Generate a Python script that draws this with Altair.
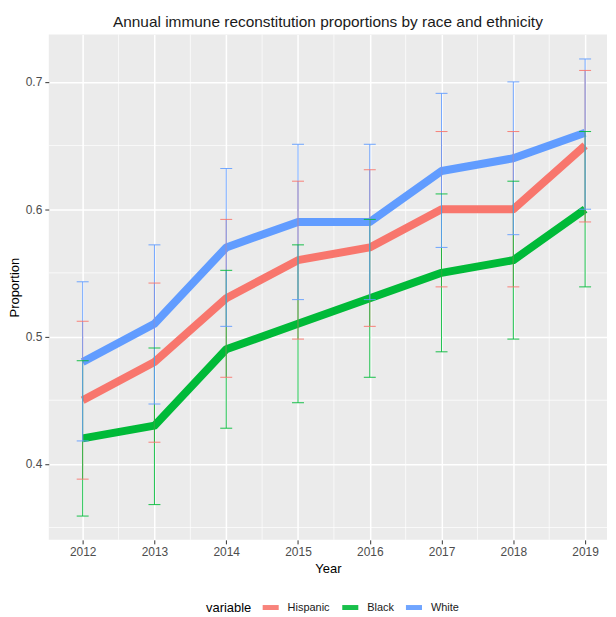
import altair as alt
import pandas as pd

years = [2012, 2013, 2014, 2015, 2016, 2017, 2018, 2019]
groups = ["Hispanic", "Black", "White"]
colors = ["#F8766D", "#00BA38", "#619CFF"]

hispanic = [0.45, 0.48, 0.53, 0.56, 0.57, 0.60, 0.60, 0.65]
hispanic_lo = [0.388, 0.417, 0.468, 0.498, 0.508, 0.539, 0.539, 0.590]
hispanic_hi = [0.512, 0.542, 0.592, 0.622, 0.631, 0.661, 0.661, 0.709]

black = [0.42, 0.43, 0.49, 0.51, 0.53, 0.55, 0.56, 0.60]
black_lo = [0.359, 0.368, 0.428, 0.448, 0.468, 0.488, 0.498, 0.539]
black_hi = [0.481, 0.491, 0.552, 0.572, 0.592, 0.612, 0.622, 0.661]

white = [0.48, 0.51, 0.57, 0.59, 0.59, 0.63, 0.64, 0.66]
white_lo = [0.418, 0.447, 0.508, 0.529, 0.529, 0.570, 0.580, 0.600]
white_hi = [0.543, 0.572, 0.632, 0.651, 0.651, 0.691, 0.700, 0.718]

minor_x = [2012.5, 2013.5, 2014.5, 2015.5, 2016.5, 2017.5, 2018.5]
minor_y = [0.35, 0.45, 0.55, 0.65]
major_y = [0.4, 0.5, 0.6, 0.7]

rows = []
for g, v, lo, hi in [("Hispanic", hispanic, hispanic_lo, hispanic_hi),
                     ("Black", black, black_lo, black_hi),
                     ("White", white, white_lo, white_hi)]:
    for i, yr in enumerate(years):
        rows.append({"Year": yr, "variable": g, "value": v[i], "lo": lo[i], "hi": hi[i]})
df = pd.DataFrame(rows)

xscale = alt.Scale(domain=[2011.528, 2019.305], nice=False, zero=False)
yscale = alt.Scale(domain=[0.3403, 0.7373], nice=False, zero=False)
color = alt.Color(
    "variable:N",
    scale=alt.Scale(domain=groups, range=colors),
    sort=groups,
    legend=alt.Legend(
        title="variable", orient="none", direction="horizontal",
        legendX=158, legendY=565, titleOrient="left",
        symbolType="stroke", symbolStrokeWidth=5, symbolSize=260,
        titleFontSize=13, titleFontWeight="normal", titleColor="#000000",
        labelFontSize=11, labelColor="#1A1A1A", columnPadding=1,
        titlePadding=8, labelOffset=6,
    ),
)

xaxis = alt.Axis(values=years, format="d", grid=True, gridColor="white", gridWidth=1.5,
                 domain=False, tickColor="#333333", tickSize=4, labelColor="#4D4D4D",
                 labelFontSize=12, labelPadding=3, title="Year", titleFontSize=13,
                 titleFontWeight="normal", titleColor="#000000", titlePadding=5)
yaxis = alt.Axis(values=major_y, format=".1f", grid=True, gridColor="white", gridWidth=1.5,
                 domain=False, tickColor="#333333", tickSize=4, labelColor="#4D4D4D",
                 labelFontSize=12, labelPadding=3, title="Proportion", titleFontSize=13,
                 titleFontWeight="normal", titleColor="#000000", titlePadding=4)

base = alt.Chart(df)

minor_vx = alt.Chart(pd.DataFrame({"mx": minor_x})).mark_rule(color="white", strokeWidth=0.7).encode(
    x=alt.X("mx:Q", scale=xscale, axis=xaxis))
minor_hy = alt.Chart(pd.DataFrame({"my": minor_y})).mark_rule(color="white", strokeWidth=0.7).encode(
    y=alt.Y("my:Q", scale=yscale, axis=yaxis))

lines = base.mark_line(strokeWidth=8, strokeCap="butt", strokeJoin="round").encode(
    x=alt.X("Year:Q", scale=xscale, axis=xaxis),
    y=alt.Y("value:Q", scale=yscale, axis=yaxis),
    color=color,
    order=alt.Order("Year:Q"),
)

err = base.mark_rule(strokeWidth=1, opacity=0.9).encode(
    x=alt.X("Year:Q", scale=xscale),
    y=alt.Y("lo:Q", scale=yscale),
    y2="hi:Q",
    color=color,
)
cap_lo = base.mark_tick(orient="horizontal", size=12, thickness=1, opacity=0.9).encode(
    x=alt.X("Year:Q", scale=xscale),
    y=alt.Y("lo:Q", scale=yscale),
    color=color,
)
cap_hi = base.mark_tick(orient="horizontal", size=12, thickness=1, opacity=0.9).encode(
    x=alt.X("Year:Q", scale=xscale),
    y=alt.Y("hi:Q", scale=yscale),
    color=color,
)

chart = alt.layer(minor_vx, minor_hy, lines, err, cap_lo, cap_hi).properties(
    width=561, height=508,
    padding={"left": 0, "top": 5, "right": 0, "bottom": 0},
    title=alt.TitleParams("Annual immune reconstitution proportions by race and ethnicity",
                          fontSize=15.5, fontWeight="normal", color="#1A1A1A",
                          anchor="middle", offset=4),
).configure(font="Liberation Sans").configure_view(fill="#EBEBEB", stroke=None)

chart.save("out.html", embed_options={"renderer": "svg", "actions": False})
